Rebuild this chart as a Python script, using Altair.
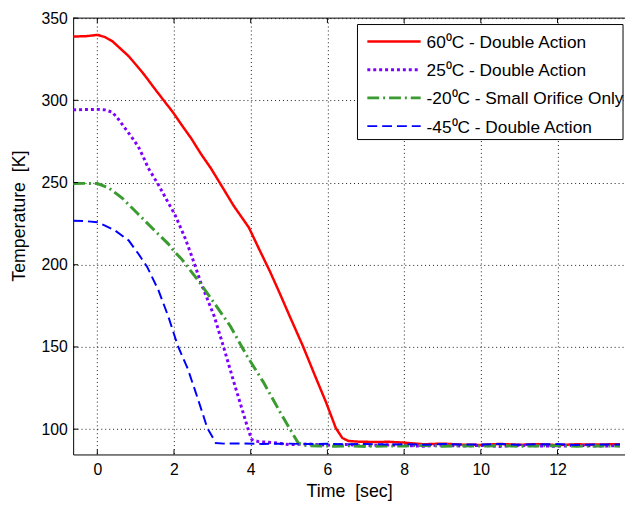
import altair as alt
import pandas as pd

# ---- data ----
series = ["60⁰C - Double Action", "25⁰C - Double Action",
          "-20⁰C - Small Orifice Only", "-45⁰C - Double Action"]
colors = ["#ff0000", "#8000ff", "#3a9b30", "#0000ff"]
dashes = [[1, 0], [3, 3], [12, 4, 2, 4], [10, 5]]
widths = [2.5, 3, 3, 2]

t_60 = [-0.63, -0.3, 0, 0.2, 0.4, 0.6, 0.82, 1.05, 1.25, 1.45, 1.67, 1.97, 2.2, 2.45,
        2.7, 2.96, 3.22, 3.56, 3.95, 4.25, 4.5, 4.75, 5.02, 5.36, 5.71, 5.96, 6.22,
        6.39, 6.55, 6.8, 7.2, 7.6, 8.0, 8.5, 9.0, 9.5, 10.0, 10.5, 11.0, 11.5, 12.0,
        12.5, 13.0, 13.63]
T_60 = [338.8, 339.0, 339.8, 338.5, 335.8, 331.5, 326.8, 320.5, 314.8, 308.5, 301.8,
        292.8, 285.0, 276.8, 267.5, 258.7, 248.8, 235.7, 222.7, 208.0, 196.0, 183.0,
        168.5, 150.6, 130.6, 116.6, 100.6, 94.6, 92.8, 92.4, 92.2, 92.3, 91.8, 90.8,
        91.2, 90.6, 90.4, 91.0, 90.5, 90.9, 90.3, 90.8, 90.6, 90.9]

t_25 = [-0.63, -0.3, 0, 0.2, 0.39, 0.55, 0.73, 0.9, 1.07, 1.2, 1.33, 1.59, 1.85, 2.02,
        2.28, 2.45, 2.57, 2.7, 3.05, 3.31, 3.56, 3.82, 3.95, 4.03, 4.2, 4.6, 5.0, 5.5,
        6.0, 6.5, 7.0, 7.5, 8.0, 8.5, 9.0, 9.5, 10.0, 10.5, 11.0, 11.5, 12.0, 12.5,
        13.0, 13.63]
T_25 = [294.2, 294.4, 294.5, 294.2, 292.8, 288.5, 282.8, 277.5, 271.8, 265.5, 258.7,
        248.8, 237.7, 230.7, 216.7, 206.0, 198.0, 189.0, 168.6, 148.6, 128.6, 108.6,
        98.6, 93.6, 92.4, 91.8, 90.6, 91.0, 90.2, 90.7, 89.9, 90.5, 90.0, 89.6, 90.3,
        89.7, 90.1, 89.5, 90.2, 89.8, 89.6, 90.2, 89.7, 89.9]

t_m20 = [-0.63, -0.3, 0, 0.3, 0.64, 1.07, 1.5, 1.85, 2.02, 2.19, 2.62, 3.05, 3.47, 3.9,
         4.33, 4.76, 5.11, 5.24, 5.4, 5.8, 6.2, 6.6, 7.0, 7.5, 8.0, 8.5, 9.0, 9.5,
         10.0, 10.5, 11.0, 11.5, 12.0, 12.5, 13.0, 13.63]
T_m20 = [249.4, 249.5, 249.4, 246.7, 240.7, 230.7, 220.7, 212.7, 207.7, 203.7, 190.7,
         176.7, 162.6, 144.6, 128.6, 110.6, 96.6, 91.6, 90.0, 89.8, 89.6, 89.9, 89.5,
         89.8, 89.7, 90.2, 89.6, 89.9, 89.7, 90.0, 89.6, 89.8, 89.9, 89.6, 89.8, 89.7]

t_m45 = [-0.63, -0.3, 0, 0.2, 0.47, 0.82, 1.07, 1.3, 1.59, 1.85, 2.1, 2.36, 2.62, 2.87,
         3.09, 3.3, 3.8, 4.3, 5.0, 5.5, 6.0, 6.5, 7.0, 7.5, 8.0, 8.5, 9.0, 9.5, 10.0,
         10.5, 11.0, 11.5, 12.0, 12.5, 13.0, 13.63]
T_m45 = [226.7, 226.5, 225.8, 223.8, 220.7, 214.7, 206.7, 198.7, 184.7, 168.6, 150.6,
         136.6, 118.6, 100.6, 91.6, 91.2, 91.3, 91.0, 91.2, 90.9, 91.1, 90.8, 91.0, 90.6,
         90.9, 90.5, 91.0, 90.7, 90.6, 91.0, 90.5, 90.8, 90.9, 90.4, 90.7, 90.6]

x_ticks = [0, 2, 4, 6, 8, 10, 12]
y_ticks = [100, 150, 200, 250, 300, 350]
x_domain = [-0.63, 13.76]
y_domain = [84.6, 350]
x_title = "Time\u00a0\u00a0[sec]"
y_title = "Temperature\u00a0\u00a0[K]"

W, H = 559, 442
FONT = "Liberation Sans"

rows = []
for name, ts, Ts in zip(series, [t_60, t_25, t_m20, t_m45], [T_60, T_25, T_m20, T_m45]):
    for i, (t, T) in enumerate(zip(ts, Ts)):
        rows.append({"series": name, "t": t, "T": T, "i": i})
df = pd.DataFrame(rows)

xs = alt.Scale(domain=x_domain, nice=False, zero=False)
ys = alt.Scale(domain=y_domain, nice=False, zero=False)

layers = []
for k, name in enumerate(series):
    sub = df[df.series == name]
    layers.append(
        alt.Chart(sub).mark_line(clip=True, strokeWidth=widths[k], strokeDash=dashes[k],
                                 color=colors[k]).encode(
            x=alt.X("t:Q", scale=xs,
                    axis=alt.Axis(values=x_ticks, title=x_title, format="d",
                                  labelPadding=7, titlePadding=6)),
            y=alt.Y("T:Q", scale=ys,
                    axis=alt.Axis(values=y_ticks, title=y_title, format="d",
                                  labelPadding=6, titleX=-45, titleY=200)),
            order="i:Q",
        )
    )

# inward tick marks (MATLAB style)
xt = pd.DataFrame({"v": x_ticks})
yt = pd.DataFrame({"v": y_ticks})
tick_layers = [
    alt.Chart(xt).mark_rule(color="black").encode(
        x=alt.X("v:Q", scale=xs), y=alt.value(H), y2=alt.value(H - 5)),
    alt.Chart(xt).mark_rule(color="black").encode(
        x=alt.X("v:Q", scale=xs), y=alt.value(0), y2=alt.value(5)),
    alt.Chart(yt).mark_rule(color="black").encode(
        y=alt.Y("v:Q", scale=ys), x=alt.value(0), x2=alt.value(5)),
]
top_border = alt.Chart(alt.Data(values=[{}])).mark_rule(color="black", strokeWidth=1).encode(
    x=alt.value(0), x2=alt.value(W), y=alt.value(0))

# legend box
one = alt.Data(values=[{}])
leg = [alt.Chart(one).mark_rect(fill="white", stroke="black", strokeWidth=1).encode(
    x=alt.value(288), x2=alt.value(557), y=alt.value(6.5), y2=alt.value(123))]
for k, name in enumerate(series):
    yy = 23.6 + k * 28.6
    leg.append(alt.Chart(one).mark_rule(color=colors[k], strokeWidth=widths[k],
                                        strokeDash=dashes[k]).encode(
        x=alt.value(298), x2=alt.value(352), y=alt.value(yy)))
    leg.append(alt.Chart(one).mark_text(align="left", baseline="middle", font=FONT,
                                        fontSize=17.5, color="black").encode(
        x=alt.value(358), y=alt.value(yy + 1.5), text=alt.value(name)))

chart = alt.layer(*layers, *tick_layers, top_border, *leg).properties(
    width=W, height=H,
    autosize=alt.AutoSizeParams(type="none"),
    padding={"left": 66, "top": 7, "right": 0, "bottom": 53},
    background="white",
).configure_view(stroke=None).configure_axis(
    grid=True, gridColor="black", gridDash=[1, 3], gridOpacity=0.9, gridWidth=1,
    domainColor="black", domainWidth=1, tickSize=0,
    labelFont=FONT, labelFontSize=16, labelColor="black",
    titleFont=FONT, titleFontSize=18, titleFontWeight="normal", titleColor="black",
)

chart.save("out.html", embed_options={"renderer": "svg", "actions": False})
